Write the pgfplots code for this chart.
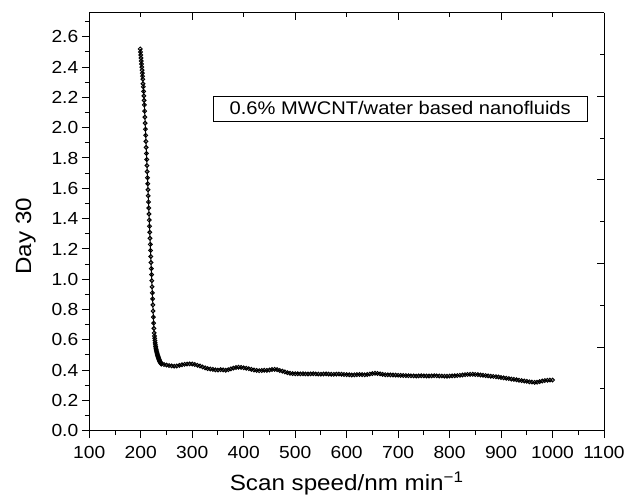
\documentclass[border=0pt]{standalone}
\usepackage{fontspec}
\setmainfont{Liberation Sans}[FakeStretch=1.1]
\usepackage{pgfplots}
\pgfplotsset{compat=1.18}
\usepackage{pgfplotstable}

\pgfplotstableread{
x y
199 2.52
199.5 2.50
200 2.48
200.5 2.46
201 2.44
201.5 2.42
202 2.40
202.5 2.38
203 2.36
203.5 2.34
204 2.32
204.5 2.29
205 2.27
205.5 2.24
206 2.21
206.5 2.18
207 2.15
207.5 2.11
208 2.07
208.5 2.03
209 1.99
209.5 1.95
210 1.91
210.5 1.87
211 1.83
211.5 1.79
212 1.75
212.5 1.71
213 1.67
213.5 1.63
214 1.59
214.5 1.55
215 1.51
215.5 1.47
216 1.43
216.5 1.39
217 1.35
217.5 1.31
218 1.27
218.5 1.23
219 1.19
219.5 1.15
220 1.11
220.5 1.07
221 1.03
221.5 0.99
222 0.95
222.5 0.91
223 0.87
223.5 0.83
224 0.79
224.5 0.75
225 0.71
225.5 0.675
226 0.645
226.5 0.625
227 0.61
227.5 0.595
228 0.58
228.5 0.567
229 0.555
229.5 0.545
230 0.535
230.5 0.527
231 0.52
231.5 0.513
232 0.506
232.5 0.50
233 0.495
233.5 0.49
234 0.485
234.5 0.48
235 0.475
235.5 0.47
236 0.466
236.5 0.462
237 0.458
237.5 0.455
238 0.452
238.5 0.449
239 0.446
239.5 0.443
240 0.440
245 0.437
250 0.433
255 0.430
260 0.428
265 0.426
270 0.427
275 0.431
280 0.435
285 0.438
290 0.440
295 0.441
300 0.440
305 0.437
310 0.432
315 0.427
320 0.421
325 0.415
330 0.410
335 0.407
340 0.405
345 0.402
350 0.400
355 0.403
360 0.401
365 0.399
370 0.403
375 0.408
380 0.413
385 0.417
390 0.419
395 0.418
400 0.415
405 0.412
410 0.409
415 0.405
420 0.401
425 0.398
430 0.396
435 0.397
440 0.399
445 0.398
450 0.401
455 0.404
460 0.405
465 0.403
470 0.398
475 0.393
480 0.388
485 0.383
490 0.379
495 0.377
500 0.376
505 0.376
510 0.375
515 0.376
520 0.375
525 0.374
530 0.375
535 0.376
540 0.375
545 0.374
550 0.373
555 0.374
560 0.375
565 0.374
570 0.373
575 0.372
580 0.373
585 0.374
590 0.373
595 0.371
600 0.370
605 0.369
610 0.368
615 0.369
620 0.370
625 0.371
630 0.370
635 0.369
640 0.371
645 0.374
650 0.377
655 0.379
660 0.378
665 0.375
670 0.372
675 0.370
680 0.369
685 0.368
690 0.368
695 0.367
700 0.366
705 0.365
710 0.364
715 0.364
720 0.363
725 0.362
730 0.362
735 0.361
740 0.362
745 0.363
750 0.362
755 0.361
760 0.361
765 0.362
770 0.363
775 0.362
780 0.361
785 0.361
790 0.360
795 0.360
800 0.361
805 0.362
810 0.363
815 0.364
820 0.366
825 0.368
830 0.370
835 0.371
840 0.372
845 0.372
850 0.371
855 0.370
860 0.368
865 0.366
870 0.364
875 0.362
880 0.360
885 0.358
890 0.356
895 0.354
900 0.351
905 0.349
910 0.346
915 0.344
920 0.341
925 0.339
930 0.336
935 0.333
940 0.331
945 0.328
950 0.326
955 0.323
960 0.321
965 0.319
970 0.320
975 0.324
980 0.328
985 0.331
990 0.333
995 0.334
1000 0.334
}\datatable

\begin{document}
\begin{tikzpicture}
\useasboundingbox (-89.3pt,-68.3pt) rectangle (549.7pt,430.7pt);
\pgfplotsset{
  myaxis/.style={
    at={(0,0)}, anchor=south west,
    scale only axis, width=514.7pt, height=418pt,
    xmin=100, xmax=1100, ymin=0, ymax=2.759,
    axis line style={line width=1pt},
    every tick/.style={black, line width=1pt},
    major tick length=7.5pt, minor tick length=4.5pt,
    /pgf/number format/assume math mode=true,
    tick label style={font=\fontsize{17.5}{19}\selectfont},
  }
}
\begin{axis}[myaxis,
  axis x line*=bottom, axis y line*=left,
  tick align=outside,
  xtick distance=100, minor x tick num=1,
  ytick distance=0.2, minor y tick num=1,
  yticklabel style={/pgf/number format/fixed, /pgf/number format/fixed zerofill, /pgf/number format/precision=1},
  xticklabel style={yshift=-5pt, /pgf/number format/1000 sep={}},
  xlabel={Scan speed/nm min\textsuperscript{−1}},
  ylabel={Day 30},
  label style={font=\fontsize{22}{25}\selectfont},
  xlabel style={at={(axis description cs:0.5,0)}, anchor=north, yshift=-38pt},
  ylabel style={at={(axis description cs:0,0.465)}, anchor=south, yshift=50pt},
]
\addplot[black, line width=1pt, mark=o, mark size=1.9pt, mark options={line width=1pt}] table[x=x, y=y] {\datatable};
\node[draw, line width=0.8pt, minimum width=374pt, minimum height=25pt, inner sep=0pt,
      font=\fontsize{18.3}{20}\selectfont] at (axis cs:704,2.127) {0.6\% MWCNT/water based nanofluids};
\end{axis}
\begin{axis}[myaxis,
  axis x line*=top, axis y line*=right,
  tick align=inside,
  xtick={100,300,500,700,900,1100}, minor x tick num=1,
  ytick={0,0.5518,1.1036,1.6554,2.2072,2.759}, minor y tick num=1,
  xticklabels={}, yticklabels={},
]
\end{axis}
\end{tikzpicture}
\end{document}
